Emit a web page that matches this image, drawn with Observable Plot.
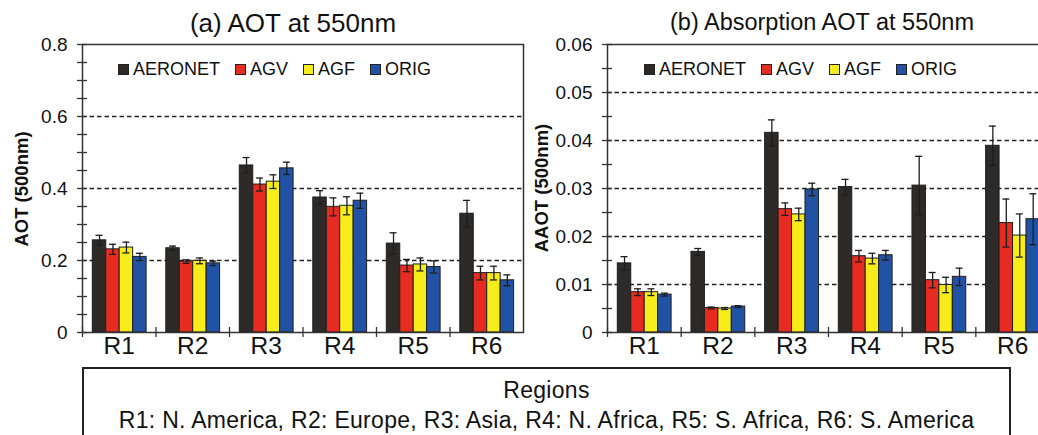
<!DOCTYPE html>
<html><head><meta charset="utf-8">
<script src="https://cdn.jsdelivr.net/npm/d3@7"></script>
<script src="https://cdn.jsdelivr.net/npm/@observablehq/plot@0.6"></script>
<style>
body{margin:0;background:#fff;font-family:Arial,"Liberation Sans",sans-serif;color:#111;}
#wrap{position:relative;width:1038px;height:435px;overflow:hidden;}
.panel{position:absolute;top:0;}
.panel svg{max-width:none !important;}
.title{position:absolute;transform:translate(-50%,-50%);white-space:nowrap;line-height:1;}
.ylab{position:absolute;font-size:18.5px;font-weight:bold;white-space:nowrap;transform:translate(-50%,-50%) rotate(-90deg);}
.legend{position:absolute;display:flex;gap:15px;font-size:18px;align-items:center;}
.legend .it{display:flex;align-items:center;gap:4px;}
.legend .sw{width:9px;height:9px;border:1px solid #222;}
#box{position:absolute;left:82px;top:367px;width:929px;height:90px;border:2px solid #222;text-align:center;font-size:23px;letter-spacing:0.3px;line-height:30px;padding-top:6px;box-sizing:border-box;}
</style></head><body><div id="wrap"></div>
<script>
// ---- data ----
const regions = ["R1","R2","R3","R4","R5","R6"];
const series = ["AERONET","AGV","AGF","ORIG"];
const colors = ["#2d2a27","#e62b21","#f5ec19","#2152a3"];

// (a) AOT at 550nm
const aotAERONET = [0.256,0.234,0.464,0.375,0.247,0.330];
const aotAGV     = [0.231,0.197,0.411,0.349,0.186,0.165];
const aotAGF     = [0.236,0.199,0.419,0.352,0.189,0.165];
const aotORIG    = [0.210,0.192,0.456,0.366,0.182,0.145];
const aotErrAERONET = [0.014,0.006,0.022,0.019,0.030,0.037];
const aotErrAGV     = [0.014,0.005,0.018,0.025,0.017,0.019];
const aotErrAGF     = [0.015,0.008,0.019,0.025,0.018,0.019];
const aotErrORIG    = [0.010,0.006,0.017,0.021,0.017,0.015];

// (b) Absorption AOT at 550nm
const aaotAERONET = [0.0144,0.0168,0.0416,0.0303,0.0306,0.0389];
const aaotAGV     = [0.0084,0.0051,0.0257,0.0159,0.0109,0.0228];
const aaotAGF     = [0.0084,0.0050,0.0246,0.0154,0.0099,0.0202];
const aaotORIG    = [0.0079,0.0054,0.0298,0.0161,0.0116,0.0236];
const aaotErrAERONET = [0.0014,0.0007,0.0027,0.0016,0.0061,0.0041];
const aaotErrAGV     = [0.0007,0.0002,0.0013,0.0012,0.0016,0.0050];
const aaotErrAGF     = [0.0007,0.0002,0.0013,0.0011,0.0016,0.0045];
const aaotErrORIG    = [0.0003,0.0002,0.0013,0.0010,0.0018,0.0053];

const aotTicks = [0,0.2,0.4,0.6,0.8];
const aotGrid = [0.2,0.4,0.6];
const aotMinor = d3.range(0,17).map(i=>+(i*0.05).toFixed(2));
const aaotTicks = [0,0.01,0.02,0.03,0.04,0.05,0.06];
const aaotGrid = [0.01,0.02,0.03,0.04,0.05];
const aaotMinor = d3.range(0,13).map(i=>+(i*0.005).toFixed(3));

function table(vals, errs){
  const rows=[];
  series.forEach((s,si)=>regions.forEach((r,ri)=>rows.push({region:r,series:s,value:vals[si][ri],err:errs[si][ri]})));
  return rows;
}
const aotRows = table([aotAERONET,aotAGV,aotAGF,aotORIG],[aotErrAERONET,aotErrAGV,aotErrAGF,aotErrORIG]);
const aaotRows = table([aaotAERONET,aaotAGV,aaotAGF,aaotORIG],[aaotErrAERONET,aaotErrAGV,aaotErrAGF,aaotErrORIG]);

function panel(rows, {width, marginLeft, marginRight, domain, ticks, grid, minor}){
  const height=362, marginTop=44, marginBottom=30;
  const step=(width-marginLeft-marginRight)/regions.length;
  const pad=10.3, bw=13.45, ink="#1e1e1e";
  const marks=[
    Plot.ruleY(grid,{y:d=>d,stroke:"#222",strokeWidth:1.3,strokeDasharray:"4.5,3"})
  ];
  series.forEach((s,i)=>{
    const sub=rows.filter(d=>d.series===s);
    const c=pad+bw*(i+0.5);
    marks.push(Plot.barY(sub,{x:"region",y:"value",fill:colors[i],stroke:ink,strokeWidth:1,
      insetLeft:pad+bw*i, insetRight:step-pad-bw*(i+1)}));
    marks.push(Plot.ruleX(sub,{x:"region",y1:d=>d.value-d.err,y2:d=>d.value+d.err,dx:c-step/2,stroke:ink,strokeWidth:1.3}));
    for(const f of [d=>d.value-d.err,d=>d.value+d.err])
      marks.push(Plot.tickY(sub,{x:"region",y:f,insetLeft:c-3.5,insetRight:step-c-3.5,stroke:ink,strokeWidth:1.3}));
  });
  marks.push(Plot.frame({stroke:"#333",strokeWidth:1.5}));
  marks.push(Plot.axisY({ticks:minor,tickSize:10,dx:5,stroke:"#333",strokeWidth:1.3,tickFormat:()=>"",label:null}));
  marks.push(Plot.axisY({ticks,tickSize:0,tickPadding:15,fontSize:19,fill:"#111",tickFormat:d=>String(d),label:null}));
  marks.push(Plot.axisX({tickSize:10,dy:-5,dx:-step/2,stroke:"#333",strokeWidth:1.3,tickFormat:()=>"",label:null}));
  marks.push(Plot.axisX({tickSize:0,tickPadding:4,fontSize:24.5,fill:"#111",label:null}));
  return Plot.plot({
    width,height,marginTop,marginBottom,marginLeft,marginRight,
    style:{fontFamily:"Arial, 'Liberation Sans', sans-serif",background:"transparent",overflow:"visible",maxWidth:"none"},
    x:{type:"band",domain:regions,padding:0,round:false},
    y:{domain},
    marks
  });
}

const wrap=document.getElementById("wrap");
function add(el,cls,css){const d=document.createElement("div");if(cls)d.className=cls;Object.assign(d.style,css||{});if(el!=null)d.append(el);wrap.append(d);return d;}

const p1=panel(aotRows,{width:528,marginLeft:82,marginRight:5,domain:[0,0.8],ticks:aotTicks,grid:aotGrid,minor:aotMinor});
const p2=panel(aaotRows,{width:530,marginLeft:79,marginRight:9,domain:[0,0.06],ticks:aaotTicks,grid:aaotGrid,minor:aaotMinor});
add(p1,"panel",{left:"0px",width:"528px"});
add(p2,"panel",{left:"528px",width:"530px"});

add("(a) AOT at 550nm","title",{left:"293px",top:"23px",fontSize:"26px"});
add("(b) Absorption AOT at 550nm","title",{left:"822px",top:"23px",fontSize:"23.5px"});
add("AOT (500nm)","ylab",{left:"22px",top:"189px"});
add("AAOT (500nm)","ylab",{left:"542px",top:"188px"});

function legend(left){
  const lg=document.createElement("div");lg.className="legend";
  lg.style.left=left+"px";lg.style.top="59px";
  series.forEach((s,i)=>{
    const it=document.createElement("div");it.className="it";
    const sw=document.createElement("div");sw.className="sw";sw.style.background=colors[i];
    const t=document.createElement("span");t.textContent=s;
    it.append(sw,t);lg.append(it);
  });
  wrap.append(lg);
}
legend(118);legend(644);

const box=add(null,null,{});box.id="box";
box.innerHTML="Regions<br>R1: N. America, R2: Europe, R3: Asia, R4: N. Africa, R5: S. Africa, R6: S. America";
</script></body></html>
